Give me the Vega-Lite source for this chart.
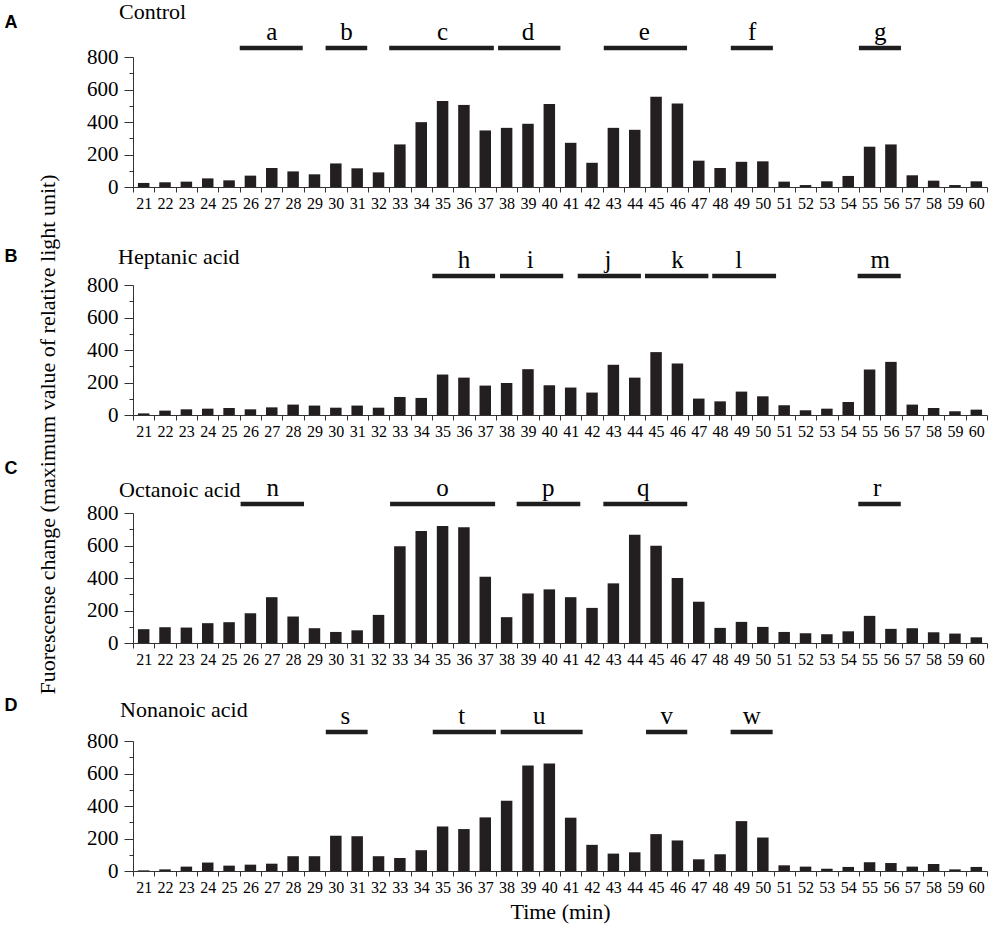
{
  "$schema": "https://vega.github.io/schema/vega-lite/v6.json",
  "background": "white",
  "padding": {"left": 4, "top": 1, "right": 5, "bottom": 5},
  "bounds": "flush",
  "spacing": 98,
  "config": {
    "view": {"stroke": null},
    "axis": {"grid": false, "domainColor": "#333", "tickColor": "#333", "labelColor": "#000", "titleColor": "#000", "labelFont": "Liberation Serif", "titleFont": "Liberation Serif", "labelOverlap": false}
  },
  "datasets": {
    "bars": [
      {"panel": "A", "t": 21, "v": 25}, {"panel": "A", "t": 22, "v": 29}, {"panel": "A", "t": 23, "v": 33}, {"panel": "A", "t": 24, "v": 53},
      {"panel": "A", "t": 25, "v": 41}, {"panel": "A", "t": 26, "v": 70}, {"panel": "A", "t": 27, "v": 117}, {"panel": "A", "t": 28, "v": 96},
      {"panel": "A", "t": 29, "v": 78}, {"panel": "A", "t": 30, "v": 145}, {"panel": "A", "t": 31, "v": 115}, {"panel": "A", "t": 32, "v": 90},
      {"panel": "A", "t": 33, "v": 262}, {"panel": "A", "t": 34, "v": 399}, {"panel": "A", "t": 35, "v": 530}, {"panel": "A", "t": 36, "v": 505},
      {"panel": "A", "t": 37, "v": 348}, {"panel": "A", "t": 38, "v": 364}, {"panel": "A", "t": 39, "v": 389}, {"panel": "A", "t": 40, "v": 511},
      {"panel": "A", "t": 41, "v": 272}, {"panel": "A", "t": 42, "v": 149}, {"panel": "A", "t": 43, "v": 364}, {"panel": "A", "t": 44, "v": 352},
      {"panel": "A", "t": 45, "v": 556}, {"panel": "A", "t": 46, "v": 514}, {"panel": "A", "t": 47, "v": 162}, {"panel": "A", "t": 48, "v": 117},
      {"panel": "A", "t": 49, "v": 155}, {"panel": "A", "t": 50, "v": 158}, {"panel": "A", "t": 51, "v": 33}, {"panel": "A", "t": 52, "v": 12},
      {"panel": "A", "t": 53, "v": 35}, {"panel": "A", "t": 54, "v": 68}, {"panel": "A", "t": 55, "v": 248}, {"panel": "A", "t": 56, "v": 262},
      {"panel": "A", "t": 57, "v": 72}, {"panel": "A", "t": 58, "v": 39}, {"panel": "A", "t": 59, "v": 12}, {"panel": "A", "t": 60, "v": 35},
      {"panel": "B", "t": 21, "v": 10}, {"panel": "B", "t": 22, "v": 27}, {"panel": "B", "t": 23, "v": 35}, {"panel": "B", "t": 24, "v": 39},
      {"panel": "B", "t": 25, "v": 43}, {"panel": "B", "t": 26, "v": 35}, {"panel": "B", "t": 27, "v": 47}, {"panel": "B", "t": 28, "v": 64},
      {"panel": "B", "t": 29, "v": 58}, {"panel": "B", "t": 30, "v": 45}, {"panel": "B", "t": 31, "v": 58}, {"panel": "B", "t": 32, "v": 45},
      {"panel": "B", "t": 33, "v": 111}, {"panel": "B", "t": 34, "v": 105}, {"panel": "B", "t": 35, "v": 249}, {"panel": "B", "t": 36, "v": 230},
      {"panel": "B", "t": 37, "v": 181}, {"panel": "B", "t": 38, "v": 197}, {"panel": "B", "t": 39, "v": 282}, {"panel": "B", "t": 40, "v": 183},
      {"panel": "B", "t": 41, "v": 169}, {"panel": "B", "t": 42, "v": 138}, {"panel": "B", "t": 43, "v": 309}, {"panel": "B", "t": 44, "v": 230},
      {"panel": "B", "t": 45, "v": 387}, {"panel": "B", "t": 46, "v": 317}, {"panel": "B", "t": 47, "v": 101}, {"panel": "B", "t": 48, "v": 84},
      {"panel": "B", "t": 49, "v": 144}, {"panel": "B", "t": 50, "v": 115}, {"panel": "B", "t": 51, "v": 60}, {"panel": "B", "t": 52, "v": 29},
      {"panel": "B", "t": 53, "v": 39}, {"panel": "B", "t": 54, "v": 80}, {"panel": "B", "t": 55, "v": 280}, {"panel": "B", "t": 56, "v": 327},
      {"panel": "B", "t": 57, "v": 64}, {"panel": "B", "t": 58, "v": 43}, {"panel": "B", "t": 59, "v": 23}, {"panel": "B", "t": 60, "v": 33},
      {"panel": "C", "t": 21, "v": 85}, {"panel": "C", "t": 22, "v": 97}, {"panel": "C", "t": 23, "v": 95}, {"panel": "C", "t": 24, "v": 122},
      {"panel": "C", "t": 25, "v": 128}, {"panel": "C", "t": 26, "v": 183}, {"panel": "C", "t": 27, "v": 282}, {"panel": "C", "t": 28, "v": 163},
      {"panel": "C", "t": 29, "v": 91}, {"panel": "C", "t": 30, "v": 68}, {"panel": "C", "t": 31, "v": 78}, {"panel": "C", "t": 32, "v": 173},
      {"panel": "C", "t": 33, "v": 596}, {"panel": "C", "t": 34, "v": 689}, {"panel": "C", "t": 35, "v": 720}, {"panel": "C", "t": 36, "v": 713},
      {"panel": "C", "t": 37, "v": 408}, {"panel": "C", "t": 38, "v": 159}, {"panel": "C", "t": 39, "v": 305}, {"panel": "C", "t": 40, "v": 330},
      {"panel": "C", "t": 41, "v": 282}, {"panel": "C", "t": 42, "v": 216}, {"panel": "C", "t": 43, "v": 367}, {"panel": "C", "t": 44, "v": 666},
      {"panel": "C", "t": 45, "v": 598}, {"panel": "C", "t": 46, "v": 400}, {"panel": "C", "t": 47, "v": 254}, {"panel": "C", "t": 48, "v": 93},
      {"panel": "C", "t": 49, "v": 130}, {"panel": "C", "t": 50, "v": 99}, {"panel": "C", "t": 51, "v": 68}, {"panel": "C", "t": 52, "v": 60},
      {"panel": "C", "t": 53, "v": 54}, {"panel": "C", "t": 54, "v": 72}, {"panel": "C", "t": 55, "v": 167}, {"panel": "C", "t": 56, "v": 87},
      {"panel": "C", "t": 57, "v": 91}, {"panel": "C", "t": 58, "v": 66}, {"panel": "C", "t": 59, "v": 58}, {"panel": "C", "t": 60, "v": 35},
      {"panel": "D", "t": 21, "v": 4}, {"panel": "D", "t": 22, "v": 10}, {"panel": "D", "t": 23, "v": 27}, {"panel": "D", "t": 24, "v": 52},
      {"panel": "D", "t": 25, "v": 33}, {"panel": "D", "t": 26, "v": 39}, {"panel": "D", "t": 27, "v": 45}, {"panel": "D", "t": 28, "v": 91},
      {"panel": "D", "t": 29, "v": 91}, {"panel": "D", "t": 30, "v": 217}, {"panel": "D", "t": 31, "v": 214}, {"panel": "D", "t": 32, "v": 91},
      {"panel": "D", "t": 33, "v": 80}, {"panel": "D", "t": 34, "v": 128}, {"panel": "D", "t": 35, "v": 274}, {"panel": "D", "t": 36, "v": 258},
      {"panel": "D", "t": 37, "v": 330}, {"panel": "D", "t": 38, "v": 433}, {"panel": "D", "t": 39, "v": 650}, {"panel": "D", "t": 40, "v": 662},
      {"panel": "D", "t": 41, "v": 328}, {"panel": "D", "t": 42, "v": 161}, {"panel": "D", "t": 43, "v": 107}, {"panel": "D", "t": 44, "v": 115},
      {"panel": "D", "t": 45, "v": 227}, {"panel": "D", "t": 46, "v": 188}, {"panel": "D", "t": 47, "v": 72}, {"panel": "D", "t": 48, "v": 103},
      {"panel": "D", "t": 49, "v": 307}, {"panel": "D", "t": 50, "v": 206}, {"panel": "D", "t": 51, "v": 35}, {"panel": "D", "t": 52, "v": 27},
      {"panel": "D", "t": 53, "v": 14}, {"panel": "D", "t": 54, "v": 25}, {"panel": "D", "t": 55, "v": 54}, {"panel": "D", "t": 56, "v": 49},
      {"panel": "D", "t": 57, "v": 27}, {"panel": "D", "t": 58, "v": 43}, {"panel": "D", "t": 59, "v": 10}, {"panel": "D", "t": 60, "v": 25}
    ],
    "segs": [
      {"panel": "A", "label": "a", "start": 25.5, "end": 28.45, "mid": 27},
      {"panel": "A", "label": "b", "start": 29.52, "end": 31.47, "mid": 30.5},
      {"panel": "A", "label": "c", "start": 32.5, "end": 37.4, "mid": 35},
      {"panel": "A", "label": "d", "start": 37.6, "end": 40.52, "mid": 39},
      {"panel": "A", "label": "e", "start": 42.55, "end": 46.45, "mid": 44.45},
      {"panel": "A", "label": "f", "start": 48.5, "end": 50.47, "mid": 49.5},
      {"panel": "A", "label": "g", "start": 54.5, "end": 56.47, "mid": 55.5},
      {"panel": "B", "label": "h", "start": 34.52, "end": 37.46, "mid": 36},
      {"panel": "B", "label": "i", "start": 37.69, "end": 40.65, "mid": 39.1},
      {"panel": "B", "label": "j", "start": 41.33, "end": 44.29, "mid": 42.75},
      {"panel": "B", "label": "k", "start": 44.48, "end": 47.45, "mid": 46},
      {"panel": "B", "label": "l", "start": 47.63, "end": 50.62, "mid": 48.87},
      {"panel": "B", "label": "m", "start": 54.44, "end": 56.46, "mid": 55.5},
      {"panel": "C", "label": "n", "start": 25.54, "end": 28.51, "mid": 27.04},
      {"panel": "C", "label": "o", "start": 32.54, "end": 37.46, "mid": 35},
      {"panel": "C", "label": "p", "start": 38.47, "end": 41.45, "mid": 39.95},
      {"panel": "C", "label": "q", "start": 42.53, "end": 46.46, "mid": 44.4},
      {"panel": "C", "label": "r", "start": 54.47, "end": 56.46, "mid": 55.35},
      {"panel": "D", "label": "s", "start": 29.53, "end": 31.49, "mid": 30.45},
      {"panel": "D", "label": "t", "start": 34.54, "end": 37.5, "mid": 35.9},
      {"panel": "D", "label": "u", "start": 37.72, "end": 41.56, "mid": 39.53},
      {"panel": "D", "label": "v", "start": 44.53, "end": 46.46, "mid": 45.5},
      {"panel": "D", "label": "w", "start": 48.49, "end": 50.46, "mid": 49.48}
    ]
  },
  "vconcat": [
    {
      "width": 854, "height": 130,
      "title": {"text": "Control", "anchor": "start", "frame": "group", "dx": -14, "offset": -28, "font": "Liberation Serif", "fontSize": 22, "fontWeight": "normal", "baseline": "alphabetic", "color": "#000"},
      "resolve": {"axis": {"x": "independent", "y": "independent"}},
      "layer": [
        {
          "data": {"name": "bars"},
          "transform": [{"filter": "datum.panel === 'A'"}],
          "mark": {"type": "bar", "size": 11.5, "color": "#231f20"},
          "encoding": {
            "x": {"field": "t", "type": "quantitative", "scale": {"domain": [20.5, 60.5], "nice": false, "zero": false, "padding": 0},
              "axis": {"orient": "bottom", "title": "Fuorescense change (maximum value of relative light unit)", "titleAngle": 270, "titleAlign": "center", "titleBaseline": "middle", "titleX": -86, "titleY": 247, "titleFont": "Liberation Serif", "titleFontWeight": "normal", "titleFontSize": 22,
                "values": [20.5,21.5,22.5,23.5,24.5,25.5,26.5,27.5,28.5,29.5,30.5,31.5,32.5,33.5,34.5,35.5,36.5,37.5,38.5,39.5,40.5,41.5,42.5,43.5,44.5,45.5,46.5,47.5,48.5,49.5,50.5,51.5,52.5,53.5,54.5,55.5,56.5,57.5,58.5,59.5,60.5],
                "labelExpr": "datum.value < 60 ? format(datum.value + 0.5, 'd') : ''", "labelOffset": 10.67, "tickSize": 5, "labelPadding": 3, "labelFont": "Liberation Serif", "labelFontSize": 16, "labelOverlap": false, "labelFlush": false, "labelBound": false}},
            "y": {"field": "v", "type": "quantitative", "scale": {"domain": [0, 800], "nice": false, "padding": 0},
              "axis": {"orient": "left", "title": "A", "titleAngle": 0, "titleAlign": "left", "titleBaseline": "alphabetic", "titleX": -129, "titleY": -30, "titleFont": "Liberation Sans", "titleFontWeight": "bold", "titleFontSize": 18,
                "values": [0,100,200,300,400,500,600,700,800], "labelExpr": "datum.value % 200 === 0 ? datum.label : ''", "labelOverlap": false,
                "tickSize": {"condition": {"test": "datum.value % 200 === 0", "value": 9}, "value": 4}, "labelPadding": 6, "labelFont": "Liberation Serif", "labelFontSize": 21}}
          }
        },
        {
          "data": {"name": "segs"},
          "transform": [{"filter": "datum.panel === 'A'"}],
          "mark": {"type": "rule", "strokeWidth": 4.5, "color": "#1e1e1e", "strokeCap": "butt"},
          "encoding": {
            "x": {"field": "start", "type": "quantitative", "axis": {"orient": "bottom", "labels": false, "ticks": false, "domain": false, "title": null}},
            "x2": {"field": "end"},
            "y": {"datum": 855, "type": "quantitative", "scale": {"domain": [0, 800]}, "axis": {"orient": "left", "labels": false, "ticks": false, "domain": false, "title": null}}
          }
        },
        {
          "data": {"name": "segs"},
          "transform": [{"filter": "datum.panel === 'A'"}],
          "mark": {"type": "text", "font": "Liberation Serif", "fontSize": 25, "baseline": "alphabetic", "dy": -8, "color": "#000"},
          "encoding": {
            "x": {"field": "mid", "type": "quantitative", "axis": {"orient": "bottom", "labels": false, "ticks": false, "domain": false, "title": null}},
            "y": {"datum": 855, "type": "quantitative", "scale": {"domain": [0, 800]}, "axis": {"orient": "left", "labels": false, "ticks": false, "domain": false, "title": null}},
            "text": {"field": "label"}
          }
        }
      ]
    },
    {
      "width": 854, "height": 130,
      "title": {"text": "Heptanic acid", "anchor": "start", "frame": "group", "dx": -15, "offset": -39, "font": "Liberation Serif", "fontSize": 22, "fontWeight": "normal", "baseline": "alphabetic", "color": "#000"},
      "resolve": {"axis": {"x": "independent", "y": "independent"}},
      "layer": [
        {
          "data": {"name": "bars"},
          "transform": [{"filter": "datum.panel === 'B'"}],
          "mark": {"type": "bar", "size": 11.5, "color": "#231f20"},
          "encoding": {
            "x": {"field": "t", "type": "quantitative", "scale": {"domain": [20.5, 60.5], "nice": false, "zero": false, "padding": 0},
              "axis": {"orient": "bottom", "title": null, "values": [20.5,21.5,22.5,23.5,24.5,25.5,26.5,27.5,28.5,29.5,30.5,31.5,32.5,33.5,34.5,35.5,36.5,37.5,38.5,39.5,40.5,41.5,42.5,43.5,44.5,45.5,46.5,47.5,48.5,49.5,50.5,51.5,52.5,53.5,54.5,55.5,56.5,57.5,58.5,59.5,60.5],
                "labelExpr": "datum.value < 60 ? format(datum.value + 0.5, 'd') : ''", "labelOffset": 10.67, "tickSize": 5, "labelPadding": 3, "labelFont": "Liberation Serif", "labelFontSize": 16, "labelOverlap": false, "labelFlush": false, "labelBound": false}},
            "y": {"field": "v", "type": "quantitative", "scale": {"domain": [0, 800], "nice": false, "padding": 0},
              "axis": {"orient": "left", "title": "B", "titleAngle": 0, "titleAlign": "left", "titleBaseline": "alphabetic", "titleX": -129, "titleY": -24, "titleFont": "Liberation Sans", "titleFontWeight": "bold", "titleFontSize": 18,
                "values": [0,100,200,300,400,500,600,700,800], "labelExpr": "datum.value % 200 === 0 ? datum.label : ''", "labelOverlap": false,
                "tickSize": {"condition": {"test": "datum.value % 200 === 0", "value": 9}, "value": 4}, "labelPadding": 6, "labelFont": "Liberation Serif", "labelFontSize": 21}}
          }
        },
        {
          "data": {"name": "segs"},
          "transform": [{"filter": "datum.panel === 'B'"}],
          "mark": {"type": "rule", "strokeWidth": 4.5, "color": "#1e1e1e", "strokeCap": "butt"},
          "encoding": {
            "x": {"field": "start", "type": "quantitative", "axis": {"orient": "bottom", "labels": false, "ticks": false, "domain": false, "title": null}},
            "x2": {"field": "end"},
            "y": {"datum": 855, "type": "quantitative", "scale": {"domain": [0, 800]}, "axis": {"orient": "left", "labels": false, "ticks": false, "domain": false, "title": null}}
          }
        },
        {
          "data": {"name": "segs"},
          "transform": [{"filter": "datum.panel === 'B'"}],
          "mark": {"type": "text", "font": "Liberation Serif", "fontSize": 25, "baseline": "alphabetic", "dy": -8, "color": "#000"},
          "encoding": {
            "x": {"field": "mid", "type": "quantitative", "axis": {"orient": "bottom", "labels": false, "ticks": false, "domain": false, "title": null}},
            "y": {"datum": 855, "type": "quantitative", "scale": {"domain": [0, 800]}, "axis": {"orient": "left", "labels": false, "ticks": false, "domain": false, "title": null}},
            "text": {"field": "label"}
          }
        }
      ]
    },
    {
      "width": 854, "height": 130,
      "title": {"text": "Octanoic acid", "anchor": "start", "frame": "group", "dx": -14, "offset": -60, "font": "Liberation Serif", "fontSize": 22, "fontWeight": "normal", "baseline": "alphabetic", "color": "#000"},
      "resolve": {"axis": {"x": "independent", "y": "independent"}},
      "layer": [
        {
          "data": {"name": "bars"},
          "transform": [{"filter": "datum.panel === 'C'"}],
          "mark": {"type": "bar", "size": 11.5, "color": "#231f20"},
          "encoding": {
            "x": {"field": "t", "type": "quantitative", "scale": {"domain": [20.5, 60.5], "nice": false, "zero": false, "padding": 0},
              "axis": {"orient": "bottom", "title": null, "values": [20.5,21.5,22.5,23.5,24.5,25.5,26.5,27.5,28.5,29.5,30.5,31.5,32.5,33.5,34.5,35.5,36.5,37.5,38.5,39.5,40.5,41.5,42.5,43.5,44.5,45.5,46.5,47.5,48.5,49.5,50.5,51.5,52.5,53.5,54.5,55.5,56.5,57.5,58.5,59.5,60.5],
                "labelExpr": "datum.value < 60 ? format(datum.value + 0.5, 'd') : ''", "labelOffset": 10.67, "tickSize": 5, "labelPadding": 3, "labelFont": "Liberation Serif", "labelFontSize": 16, "labelOverlap": false, "labelFlush": false, "labelBound": false}},
            "y": {"field": "v", "type": "quantitative", "scale": {"domain": [0, 800], "nice": false, "padding": 0},
              "axis": {"orient": "left", "title": "C", "titleAngle": 0, "titleAlign": "left", "titleBaseline": "alphabetic", "titleX": -129, "titleY": -40, "titleFont": "Liberation Sans", "titleFontWeight": "bold", "titleFontSize": 18,
                "values": [0,100,200,300,400,500,600,700,800], "labelExpr": "datum.value % 200 === 0 ? datum.label : ''", "labelOverlap": false,
                "tickSize": {"condition": {"test": "datum.value % 200 === 0", "value": 9}, "value": 4}, "labelPadding": 6, "labelFont": "Liberation Serif", "labelFontSize": 21}}
          }
        },
        {
          "data": {"name": "segs"},
          "transform": [{"filter": "datum.panel === 'C'"}],
          "mark": {"type": "rule", "strokeWidth": 4.5, "color": "#1e1e1e", "strokeCap": "butt"},
          "encoding": {
            "x": {"field": "start", "type": "quantitative", "axis": {"orient": "bottom", "labels": false, "ticks": false, "domain": false, "title": null}},
            "x2": {"field": "end"},
            "y": {"datum": 855, "type": "quantitative", "scale": {"domain": [0, 800]}, "axis": {"orient": "left", "labels": false, "ticks": false, "domain": false, "title": null}}
          }
        },
        {
          "data": {"name": "segs"},
          "transform": [{"filter": "datum.panel === 'C'"}],
          "mark": {"type": "text", "font": "Liberation Serif", "fontSize": 25, "baseline": "alphabetic", "dy": -8, "color": "#000"},
          "encoding": {
            "x": {"field": "mid", "type": "quantitative", "axis": {"orient": "bottom", "labels": false, "ticks": false, "domain": false, "title": null}},
            "y": {"datum": 855, "type": "quantitative", "scale": {"domain": [0, 800]}, "axis": {"orient": "left", "labels": false, "ticks": false, "domain": false, "title": null}},
            "text": {"field": "label"}
          }
        }
      ]
    },
    {
      "width": 854, "height": 130,
      "title": {"text": "Nonanoic acid", "anchor": "start", "frame": "group", "dx": -13, "offset": -43, "font": "Liberation Serif", "fontSize": 22, "fontWeight": "normal", "baseline": "alphabetic", "color": "#000"},
      "resolve": {"axis": {"x": "independent", "y": "independent"}},
      "layer": [
        {
          "data": {"name": "bars"},
          "transform": [{"filter": "datum.panel === 'D'"}],
          "mark": {"type": "bar", "size": 11.5, "color": "#231f20"},
          "encoding": {
            "x": {"field": "t", "type": "quantitative", "scale": {"domain": [20.5, 60.5], "nice": false, "zero": false, "padding": 0},
              "axis": {"orient": "bottom", "title": "Time (min)", "titleFont": "Liberation Serif", "titleFontWeight": "normal", "titleFontSize": 22, "titlePadding": 6,
                "values": [20.5,21.5,22.5,23.5,24.5,25.5,26.5,27.5,28.5,29.5,30.5,31.5,32.5,33.5,34.5,35.5,36.5,37.5,38.5,39.5,40.5,41.5,42.5,43.5,44.5,45.5,46.5,47.5,48.5,49.5,50.5,51.5,52.5,53.5,54.5,55.5,56.5,57.5,58.5,59.5,60.5],
                "labelExpr": "datum.value < 60 ? format(datum.value + 0.5, 'd') : ''", "labelOffset": 10.67, "tickSize": 5, "labelPadding": 3, "labelFont": "Liberation Serif", "labelFontSize": 16, "labelOverlap": false, "labelFlush": false, "labelBound": false}},
            "y": {"field": "v", "type": "quantitative", "scale": {"domain": [0, 800], "nice": false, "padding": 0},
              "axis": {"orient": "left", "title": "D", "titleAngle": 0, "titleAlign": "left", "titleBaseline": "alphabetic", "titleX": -129, "titleY": -31, "titleFont": "Liberation Sans", "titleFontWeight": "bold", "titleFontSize": 18,
                "values": [0,100,200,300,400,500,600,700,800], "labelExpr": "datum.value % 200 === 0 ? datum.label : ''", "labelOverlap": false,
                "tickSize": {"condition": {"test": "datum.value % 200 === 0", "value": 9}, "value": 4}, "labelPadding": 6, "labelFont": "Liberation Serif", "labelFontSize": 21}}
          }
        },
        {
          "data": {"name": "segs"},
          "transform": [{"filter": "datum.panel === 'D'"}],
          "mark": {"type": "rule", "strokeWidth": 4.5, "color": "#1e1e1e", "strokeCap": "butt"},
          "encoding": {
            "x": {"field": "start", "type": "quantitative", "axis": {"orient": "bottom", "labels": false, "ticks": false, "domain": false, "title": null}},
            "x2": {"field": "end"},
            "y": {"datum": 855, "type": "quantitative", "scale": {"domain": [0, 800]}, "axis": {"orient": "left", "labels": false, "ticks": false, "domain": false, "title": null}}
          }
        },
        {
          "data": {"name": "segs"},
          "transform": [{"filter": "datum.panel === 'D'"}],
          "mark": {"type": "text", "font": "Liberation Serif", "fontSize": 25, "baseline": "alphabetic", "dy": -8, "color": "#000"},
          "encoding": {
            "x": {"field": "mid", "type": "quantitative", "axis": {"orient": "bottom", "labels": false, "ticks": false, "domain": false, "title": null}},
            "y": {"datum": 855, "type": "quantitative", "scale": {"domain": [0, 800]}, "axis": {"orient": "left", "labels": false, "ticks": false, "domain": false, "title": null}},
            "text": {"field": "label"}
          }
        }
      ]
    }
  ]
}
